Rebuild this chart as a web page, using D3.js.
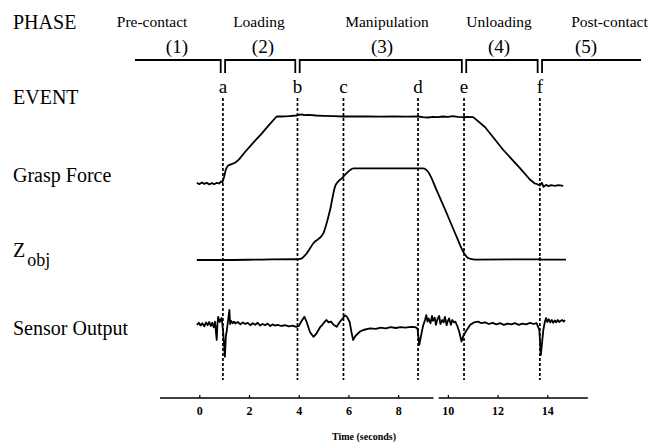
<!DOCTYPE html>
<html>
<head>
<meta charset="utf-8">
<script src="https://cdn.jsdelivr.net/npm/d3@7"></script>
<style>
  body { margin: 0; background: #fff; }
</style>
</head>
<body>
<div id="container"></div>
<script>
// ---- data ----
const phaseNames = ["Pre-contact", "Loading", "Manipulation", "Unloading", "Post-contact"];
const phaseNumbers = ["(1)", "(2)", "(3)", "(4)", "(5)"];
const eventNames = ["a", "b", "c", "d", "e", "f"];
const eventTimes = [0.95, 3.95, 5.8, 8.8, 10.65, 13.7];   // seconds
const timeTicks = [0, 2, 4, 6, 8, 10, 12, 14];

// [time (s), force]
const graspForce = [
  [-0.1,0.1],[0.0,-0.1],[0.1,0.15],[0.2,-0.05],[0.3,0.1],[0.4,-0.15],[0.5,0.05],[0.6,-0.1],[0.7,0.1],[0.8,0.0],
  [0.88,0.3],[0.93,0.2],[1.0,1.0],[1.06,2.0],[1.12,2.5],[1.17,2.7],[1.3,2.9],[1.44,3.1],[1.6,3.6],[1.84,4.7],
  [2.2,6.2],[2.5,7.4],[2.8,8.7],[3.11,10.0],[3.3,10.0],[3.6,10.05],[3.9,10.15],[4.1,10.3],[4.25,10.2],[4.4,10.25],
  [4.7,10.15],[5.0,10.1],[5.4,10.05],[5.8,10.0],[6.3,10.0],[6.8,10.02],[7.3,9.98],[7.8,10.0],[8.3,9.97],[8.8,10.0],
  [9.0,9.9],[9.2,9.85],[9.4,9.95],[9.6,9.9],[9.8,10.0],[10.0,9.95],[10.2,10.05],[10.4,9.95],[10.6,9.9],[10.8,9.95],
  [11.02,9.9],[11.5,8.4],[12.23,5.0],[12.9,2.3],[13.3,0.6],[13.5,0.0],[13.6,-0.1],[13.7,-0.3],[13.78,0.1],[13.85,-0.5],
  [13.95,-0.2],[14.05,-0.4],[14.15,-0.25],[14.3,-0.35],[14.45,-0.25],[14.64,-0.35]
];

// [time (s), height]
const zObj = [
  [-0.1,0],[1.0,0],[2.5,0.5],[3.95,0.8],[4.1,1.5],[4.32,7.3],[4.59,18.2],[4.99,29],[5.1,38],[5.26,54.5],
  [5.46,80],[5.6,86],[5.73,89],[5.9,94],[6.06,98],[6.2,100],[9.01,100],[9.21,96],[9.55,76],[9.95,51],
  [10.35,25.5],[10.62,9],[10.82,2],[11.09,0.5],[13.65,0.8],[13.7,2.0],[13.75,0.5],[14.75,0.5]
];

// [time (s), sensor output]
const sensorOutput = [
  [-0.1,-0.02],[-0.02,0.03],[0.05,-0.04],[0.12,0.02],[0.2,-0.06],[0.27,0.04],[0.33,-0.03],[0.4,0.05],[0.46,-0.05],[0.52,0.03],
  [0.58,-0.08],[0.63,0.06],[0.7,-0.4],[0.73,0.0],[0.76,0.18],[0.82,0.05],[0.9,0.15],[0.96,-0.2],[1.03,-0.82],[1.07,-0.3],
  [1.11,-0.15],[1.16,0.1],[1.21,0.35],[1.24,0.0],[1.28,0.08],[1.34,0.02],[1.4,0.06],[1.45,0.01],[1.55,0.05],[1.65,-0.01],
  [1.75,0.04],[1.85,0.0],[1.95,0.03],[2.05,-0.03],[2.15,0.02],[2.25,-0.02],[2.35,0.03],[2.45,-0.04],[2.55,0.0],[2.65,-0.03],
  [2.75,0.01],[2.85,-0.05],[2.95,-0.01],[3.05,-0.04],[3.15,-0.02],[3.3,-0.05],[3.45,-0.03],[3.6,-0.06],[3.75,-0.04],[3.9,-0.07],
  [4.0,-0.05],[4.12,0.08],[4.23,0.18],[4.32,0.05],[4.45,-0.2],[4.59,-0.32],[4.7,-0.25],[4.86,-0.08],[4.95,-0.02],[5.05,0.06],
  [5.12,0.1],[5.2,0.04],[5.3,0.06],[5.4,-0.02],[5.53,-0.07],[5.65,0.05],[5.78,0.15],[5.86,0.22],[5.95,0.17],[6.05,0.05],
  [6.12,-0.2],[6.19,-0.4],[6.28,-0.3],[6.46,-0.19],[6.6,-0.15],[6.87,-0.11],[7.1,-0.12],[7.3,-0.09],[7.5,-0.11],[7.7,-0.08],
  [7.9,-0.1],[8.1,-0.08],[8.3,-0.09],[8.5,-0.07],[8.7,-0.08],[8.78,-0.12],[8.85,-0.52],[8.92,-0.3],[9.0,-0.05],[9.08,0.1],
  [9.13,0.22],[9.18,0.06],[9.22,0.14],[9.3,0.02],[9.36,0.2],[9.4,0.08],[9.47,0.16],[9.52,-0.02],[9.58,0.12],[9.65,0.2],
  [9.7,0.0],[9.77,0.1],[9.83,0.04],[9.88,0.18],[9.95,-0.03],[10.0,0.08],[10.05,0.14],[10.12,-0.02],[10.18,0.1],[10.24,0.04],
  [10.3,0.06],[10.38,-0.05],[10.46,-0.2],[10.55,-0.44],[10.62,-0.3],[10.76,-0.15],[10.9,-0.02],[11.05,0.04],[11.22,0.06],[11.35,0.02],[11.5,0.04],
  [11.65,0.0],[11.8,0.03],[11.95,-0.01],[12.1,0.02],[12.25,-0.02],[12.4,0.01],[12.55,-0.01],[12.7,0.02],[12.85,-0.02],[13.0,0.01],
  [13.15,-0.01],[13.3,0.03],[13.45,0.0],[13.57,0.02],[13.68,-0.15],[13.74,-0.78],[13.8,-0.4],[13.84,-0.15],[13.9,0.05],[13.95,0.15],
  [14.0,0.05],[14.06,0.12],[14.12,0.04],[14.18,0.1],[14.24,0.03],[14.3,0.09],[14.36,0.04],[14.42,0.1],[14.48,0.05],[14.54,0.08],
  [14.6,0.1],[14.66,0.06],[14.71,0.1]
];

// ---- layout ----
const width = 654, height = 447;
const serif = "'Liberation Serif', 'DejaVu Serif', serif";
const phaseNameT = [-1.9, 2.4, 7.55, 12.06, 16.5];     // label centres, in seconds
const phaseNumberT = [-0.9, 2.56, 7.35, 12.06, 15.56];
const notchEvents = [0, 1, 4, 5];                        // events where the phase line breaks

const svg = d3.select('#container')
    .append("svg")
    .attr("width", width)
    .attr("height", height)
    .attr("font-family", serif)
    .style("font-family", serif);

const x = d3.scaleLinear().domain([0, 14]).range([199.3, 547.3]);

const yForce = d3.scaleLinear().domain([0, 10]).range([183.5, 116.5]);
const yZ = d3.scaleLinear().domain([0, 100]).range([260, 168.3]);
const ySensor = d3.scaleLinear().domain([-1, 1]).range([364, 284]);

// row labels
const rowLabel = (txt, y) => svg.append("text")
    .attr("x", 13).attr("y", y)
    .style("font-family", serif)
    .style("font-size", "20px")
    .text(txt);

rowLabel("PHASE", 28.5);
rowLabel("EVENT", 104);
rowLabel("Grasp Force", 182);
rowLabel("Sensor Output", 335);

const zLab = svg.append("text")
    .attr("x", 13).attr("y", 257)
    .style("font-family", serif)
    .style("font-size", "20px");
zLab.append("tspan").text("Z");
zLab.append("tspan").attr("dy", 9).attr("dx", 2).style("font-size", "18px").text("obj");

// phase names and numbers
svg.selectAll(".phasename")
    .data(phaseNames)
    .enter()
    .append("text")
    .attr("class", "phasename")
    .attr("x", (d, i) => x(phaseNameT[i]))
    .attr("y", 27)
    .attr("text-anchor", "middle")
    .style("font-family", serif)
    .style("font-size", "15.5px")
    .text(d => d);

svg.selectAll(".phasenum")
    .data(phaseNumbers)
    .enter()
    .append("text")
    .attr("class", "phasenum")
    .attr("x", (d, i) => x(phaseNumberT[i]))
    .attr("y", 53)
    .attr("text-anchor", "middle")
    .style("font-family", serif)
    .style("font-size", "19px")
    .text(d => d);

// phase line with breaks at a, b, e, f
const lineY = 60, notchDepth = 13, half = 2.2;
let pd = "M135," + lineY;
notchEvents.forEach(k => {
    const cx = x(eventTimes[k]);
    pd += " L" + (cx - half) + "," + lineY + " L" + (cx - half) + "," + (lineY + notchDepth);
    pd += " M" + (cx + half) + "," + (lineY + notchDepth) + " L" + (cx + half) + "," + lineY;
});
pd += " L641," + lineY;
svg.append("path")
    .attr("d", pd)
    .attr("fill", "none")
    .attr("stroke", "#000")
    .attr("stroke-width", 1.8);

// event letters
svg.selectAll(".eventname")
    .data(eventNames)
    .enter()
    .append("text")
    .attr("class", "eventname")
    .attr("x", (d, i) => x(eventTimes[i]))
    .attr("y", 93)
    .attr("text-anchor", "middle")
    .style("font-family", serif)
    .style("font-size", "19px")
    .text(d => d);

// dashed event lines
svg.selectAll(".eventline")
    .data(eventTimes)
    .enter()
    .append("line")
    .attr("class", "eventline")
    .attr("x1", d => x(d)).attr("x2", d => x(d))
    .attr("y1", 98).attr("y2", 380)
    .attr("stroke", "#000")
    .attr("stroke-width", 1.7)
    .attr("stroke-dasharray", "3,2");

// traces
const trace = (data, y, curve) => svg.append("path")
    .datum(data)
    .attr("fill", "none")
    .attr("stroke", "#000")
    .attr("stroke-width", 1.8)
    .attr("stroke-linejoin", "round")
    .attr("d", d3.line().x(d => x(d[0])).y(d => y(d[1])).curve(curve));

trace(graspForce, yForce, d3.curveLinear);
trace(zObj, yZ, d3.curveMonotoneX);
trace(sensorOutput, ySensor, d3.curveLinear);

// time axis
const axisG = svg.append("g")
    .attr("transform", "translate(0,398)")
    .call(d3.axisBottom(x)
        .tickValues(timeTicks)
        .tickSizeInner(-3)
        .tickSizeOuter(0)
        .tickPadding(8.5));

axisG.attr("font-family", serif);
axisG.select(".domain")
    .attr("d", "M" + x(-1.58) + ",0H" + x(9.42) + "M" + x(9.63) + ",0H" + x(15.63))
    .attr("stroke-width", 1.6);
axisG.selectAll(".tick line").attr("stroke-width", 1.2);
axisG.selectAll(".tick text")
    .style("font-family", serif)
    .style("font-weight", "bold")
    .style("font-size", "12px");

svg.append("text")
    .attr("x", 364)
    .attr("y", 440)
    .attr("text-anchor", "middle")
    .style("font-family", serif)
    .style("font-size", "10px")
    .style("font-weight", "bold")
    .text("Time (seconds)");
</script>
</body>
</html>
